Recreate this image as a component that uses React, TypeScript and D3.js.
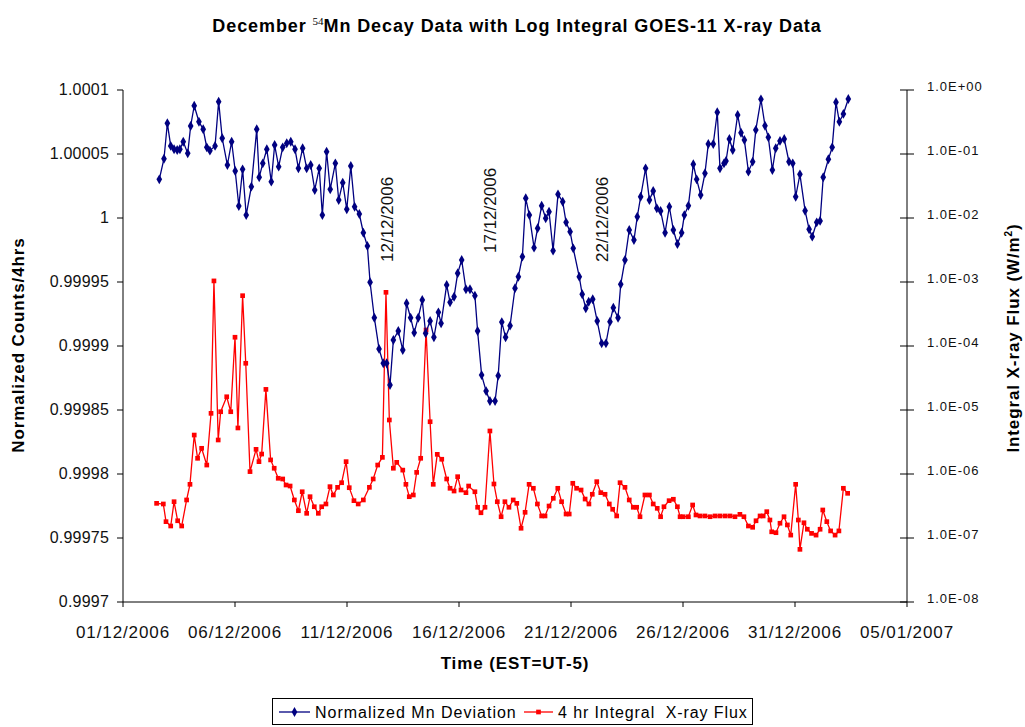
import React from "react";
import * as d3 from "d3";

// days after 01/12/2006 00:00 and normalized count deviation (ppm of 1)
const mnDays = [1.62, 1.83, 1.98, 2.13, 2.28, 2.42, 2.54, 2.69, 2.89, 3.02, 3.18, 3.39, 3.58, 3.74, 3.88, 4.11, 4.27, 4.43, 4.66, 4.85, 5.01, 5.17, 5.34, 5.5, 5.73, 5.97, 6.08, 6.24, 6.42, 6.62, 6.77, 6.95, 7.13, 7.31, 7.49, 7.68, 7.83, 8.02, 8.2, 8.38, 8.56, 8.76, 8.9, 9.09, 9.25, 9.48, 9.63, 9.81, 9.99, 10.17, 10.34, 10.55, 10.73, 10.91, 11.03, 11.22, 11.43, 11.62, 11.77, 11.92, 12.07, 12.29, 12.49, 12.66, 12.84, 13.0, 13.18, 13.36, 13.51, 13.71, 13.88, 14.08, 14.2, 14.45, 14.6, 14.78, 14.94, 15.12, 15.31, 15.49, 15.71, 15.83, 16.01, 16.21, 16.38, 16.61, 16.75, 16.91, 17.08, 17.28, 17.5, 17.65, 17.83, 17.98, 18.14, 18.35, 18.51, 18.69, 18.87, 19.02, 19.2, 19.42, 19.63, 19.78, 19.96, 20.1, 20.37, 20.5, 20.66, 20.79, 20.97, 21.17, 21.37, 21.56, 21.74, 21.89, 22.1, 22.22, 22.41, 22.6, 22.81, 22.96, 23.11, 23.33, 23.5, 23.67, 23.83, 24.0, 24.2, 24.39, 24.57, 24.75, 24.94, 25.06, 25.24, 25.46, 25.61, 25.79, 25.98, 26.13, 26.35, 26.53, 26.65, 26.83, 26.92, 27.07, 27.22, 27.44, 27.59, 27.74, 27.92, 28.11, 28.25, 28.48, 28.66, 28.81, 28.99, 29.14, 29.33, 29.52, 29.73, 29.9, 30.03, 30.22, 30.45, 30.63, 30.77, 30.97, 31.12, 31.26, 31.49, 31.66, 31.83, 31.98, 32.16, 32.38];
const mnPpm = [30.2, 46.3, 74.0, 56.3, 53.7, 53.1, 53.7, 59.6, 50.5, 71.9, 87.7, 75.2, 69.3, 55.2, 52.6, 56.3, 90.9, 62.3, 41.4, 59.6, 36.7, 9.4, 38.0, 2.3, 24.5, 69.3, 31.8, 42.7, 53.7, 28.4, 57.0, 40.1, 55.2, 58.4, 59.6, 53.7, 38.8, 54.5, 38.8, 41.4, 21.9, 38.8, 2.3, 51.8, 22.4, 42.7, 14.1, 27.6, 6.8, 40.6, 8.8, 3.1, -11.5, -21.9, -50.2, -77.9, -102.3, -113.5, -113.5, -130.5, -95.3, -88.3, -103.1, -66.6, -77.9, -89.6, -77.9, -64.1, -90.1, -80.5, -93.2, -73.7, -82.3, -52.3, -65.9, -61.5, -43.2, -32.8, -55.7, -55.7, -60.7, -88.3, -122.7, -135.2, -143.0, -143.0, -123.2, -81.3, -93.2, -84.1, -54.9, -45.9, -30.2, 15.4, 2.3, -23.2, -8.0, 9.6, -0.2, 4.9, -25.5, 18.5, 12.7, -3.4, -10.7, -23.7, -45.9, -59.6, -70.5, -65.4, -63.5, -80.5, -97.9, -97.9, -81.0, -70.1, -77.9, -51.8, -32.8, -9.4, -17.2, 1.0, 16.6, 38.8, 14.1, 21.1, 7.6, 5.5, -11.5, 8.8, -9.4, -20.3, -11.5, 2.3, 9.6, 42.0, 30.2, 18.0, 34.9, 57.8, 57.8, 82.6, 38.8, 42.7, 44.5, 61.7, 53.1, 80.5, 66.6, 60.9, 36.2, 44.0, 68.8, 92.7, 72.1, 63.0, 37.5, 54.5, 60.2, 61.7, 44.0, 42.7, 16.6, 34.1, 5.7, -8.8, -14.6, -3.4, -2.3, 31.8, 45.9, 55.2, 90.4, 75.2, 81.3, 93.0];

// days after 01/12/2006 00:00 and 4 hr integral X-ray flux (W/m2)
const xrayDays = [1.5, 1.8, 1.92, 2.13, 2.28, 2.44, 2.62, 2.84, 2.99, 3.18, 3.33, 3.51, 3.74, 3.93, 4.06, 4.25, 4.36, 4.63, 4.81, 5.0, 5.13, 5.34, 5.48, 5.67, 5.94, 6.07, 6.19, 6.38, 6.59, 6.75, 6.93, 7.13, 7.28, 7.46, 7.65, 7.83, 8.0, 8.2, 8.35, 8.54, 8.72, 8.87, 9.06, 9.24, 9.39, 9.58, 9.76, 9.96, 10.1, 10.31, 10.5, 10.73, 11.0, 11.17, 11.37, 11.58, 11.74, 11.89, 12.07, 12.22, 12.49, 12.63, 12.78, 12.96, 13.11, 13.29, 13.53, 13.71, 13.85, 14.03, 14.23, 14.45, 14.6, 14.78, 14.94, 15.09, 15.31, 15.43, 15.71, 15.83, 15.98, 16.16, 16.38, 16.56, 16.71, 16.88, 17.05, 17.23, 17.42, 17.58, 17.77, 17.95, 18.13, 18.32, 18.5, 18.69, 18.84, 19.02, 19.21, 19.41, 19.58, 19.78, 19.92, 20.08, 20.25, 20.45, 20.63, 20.8, 20.95, 21.15, 21.33, 21.52, 21.71, 21.86, 22.04, 22.19, 22.41, 22.6, 22.78, 22.93, 23.08, 23.3, 23.5, 23.67, 23.85, 24.0, 24.15, 24.38, 24.57, 24.75, 24.87, 25.01, 25.24, 25.43, 25.58, 25.76, 25.98, 26.21, 26.43, 26.65, 26.88, 27.1, 27.32, 27.54, 27.72, 27.92, 28.11, 28.26, 28.44, 28.58, 28.74, 28.88, 28.96, 29.15, 29.33, 29.51, 29.66, 29.81, 30.03, 30.15, 30.22, 30.4, 30.55, 30.74, 30.94, 31.12, 31.24, 31.42, 31.59, 31.79, 31.96, 32.16, 32.35];
const xrayFlux = [3.48e-7, 3.4e-7, 1.8e-7, 1.54e-7, 3.69e-7, 1.86e-7, 1.54e-7, 3.93e-7, 6.9e-7, 4.06e-6, 1.76e-6, 2.52e-6, 1.38e-6, 8.87e-6, 1.04e-3, 3.4e-6, 9.4e-6, 1.61e-5, 9.4e-6, 1.37e-4, 5.24e-6, 6.11e-4, 5.37e-5, 1.09e-6, 2.43e-6, 1.56e-6, 2.05e-6, 2.1e-5, 1.66e-6, 1.23e-6, 8.57e-7, 8.36e-7, 6.73e-7, 6.49e-7, 3.93e-7, 2.67e-7, 5.28e-7, 2.43e-7, 4.42e-7, 3.08e-7, 2.43e-7, 3.08e-7, 3.4e-7, 6.34e-7, 4.7e-7, 6.19e-7, 7.31e-7, 1.56e-6, 6.11e-7, 3.83e-7, 3.4e-7, 3.93e-7, 6.19e-7, 8.36e-7, 1.38e-6, 1.82e-6, 6.9e-4, 6.98e-6, 1.23e-6, 1.52e-6, 1.15e-6, 6.9e-7, 4.42e-7, 4.7e-7, 1.06e-6, 1.76e-6, 1.78e-4, 6.56e-6, 6.9e-7, 2.03e-6, 1.7e-6, 8.36e-7, 5.98e-7, 5.42e-7, 9.08e-7, 5.62e-7, 5.11e-7, 6.49e-7, 5.28e-7, 3.02e-7, 2.48e-7, 3.02e-7, 4.7e-6, 6.98e-7, 3.69e-7, 2.15e-7, 3.69e-7, 3.02e-7, 3.93e-7, 3.48e-7, 1.42e-7, 2.52e-7, 6.9e-7, 5.98e-7, 3.4e-7, 2.21e-7, 2.21e-7, 3.16e-7, 4.17e-7, 5.98e-7, 3.69e-7, 2.37e-7, 2.37e-7, 7.16e-7, 5.98e-7, 5.62e-7, 4.06e-7, 3.4e-7, 4.82e-7, 7.59e-7, 5.11e-7, 4.82e-7, 3.4e-7, 2.81e-7, 2.21e-7, 7.31e-7, 6.19e-7, 3.93e-7, 3.02e-7, 3.02e-7, 2.15e-7, 4.7e-7, 4.7e-7, 3.4e-7, 2.91e-7, 2.15e-7, 3.08e-7, 3.83e-7, 4.03e-7, 3.08e-7, 2.15e-7, 2.15e-7, 2.15e-7, 3.28e-7, 2.29e-7, 2.21e-7, 2.21e-7, 2.15e-7, 2.21e-7, 2.21e-7, 2.21e-7, 2.21e-7, 2.15e-7, 2.34e-7, 2.15e-7, 1.54e-7, 1.47e-7, 1.86e-7, 2.21e-7, 2.21e-7, 2.58e-7, 1.91e-7, 1.25e-7, 1.21e-7, 1.7e-7, 2.15e-7, 1.6e-7, 1.11e-7, 6.9e-7, 1.91e-7, 6.65e-8, 1.73e-7, 1.37e-7, 1.18e-7, 1.11e-7, 1.37e-7, 2.74e-7, 1.8e-7, 1.29e-7, 1.11e-7, 1.29e-7, 5.98e-7, 4.99e-7];

const leftTicks = [100, 50, 0, -50, -100, -150, -200, -250, -300];
const rightTicks = [1, 1e-1, 1e-2, 1e-3, 1e-4, 1e-5, 1e-6, 1e-7, 1e-8];
const markerDates = [
  { label: "12/12/2006", day: 11.78, base: 262 },
  { label: "17/12/2006", day: 16.4, base: 253 },
  { label: "22/12/2006", day: 21.38, base: 262 },
];

const W = 1025;
const H = 727;
const m = { left: 123, right: 907, top: 90, bottom: 602 };
const start = new Date(2006, 11, 1);
const end = new Date(2007, 0, 5);
const font = "Arial, 'Liberation Sans', sans-serif";

const dayToDate = (d: number) => new Date(start.getTime() + d * 86400000);

export default function App() {
  const x = d3.scaleTime().domain([start, end]).range([m.left, m.right]);
  const yL = d3.scaleLinear().domain([-300, 100]).range([m.bottom, m.top]);
  const yR = d3.scaleLog().domain([1e-8, 1]).range([m.bottom, m.top]);

  const mn = mnDays.map((d, i) => ({ t: dayToDate(d), v: mnPpm[i] }));
  const xr = xrayDays.map((d, i) => ({ t: dayToDate(d), v: xrayFlux[i] }));

  const mnLine = d3.line<any>().x((d) => x(d.t)).y((d) => yL(d.v))(mn) || "";
  const xrLine = d3.line<any>().x((d) => x(d.t)).y((d) => yR(d.v))(xr) || "";
  const diamond = d3.symbol().type(d3.symbolDiamond).size(28)() || "";
  const square = d3.symbol().type(d3.symbolSquare).size(22)() || "";

  const xTicks = d3.range(0, 8).map((i) => d3.timeDay.offset(start, i * 5));
  const fmtDate = d3.timeFormat("%d/%m/%Y");
  const fmtLeft = (v: number) => String(+(1 + v / 1e6).toFixed(5));
  const fmtRight = (v: number) => {
    const e = Math.round(Math.log10(v));
    return "1.0E" + (e < 0 ? "-" : "+") + String(Math.abs(e)).padStart(2, "0");
  };

  return (
    <svg
      width={W}
      height={H}
      style={{ position: "absolute", left: 0, top: 0, background: "#fff" }}
      fontFamily={font}
    >
      {/* title */}
      <text x={517} y={32} textAnchor="middle" fontWeight="bold" fontSize={18} letterSpacing={0.9}>
        December{" "}
        <tspan fontFamily="'Liberation Serif', serif" fontWeight="normal" fontSize={11} dy={-7} letterSpacing={0}>
          54
        </tspan>
        <tspan dy={7}>Mn Decay Data with Log Integral GOES-11 X-ray Data</tspan>
      </text>

      {/* axes */}
      <g stroke="#000" strokeWidth={1}>
        <line x1={m.left} x2={m.left} y1={m.top} y2={m.bottom} />
        <line x1={m.left} x2={m.right} y1={m.bottom} y2={m.bottom} />
        <line x1={m.right} x2={m.right} y1={m.top} y2={m.bottom} />
        {leftTicks.map((t) => (
          <line key={t} x1={m.left - 6} x2={m.left} y1={yL(t)} y2={yL(t)} />
        ))}
        {rightTicks.map((t) => (
          <line key={t} x1={m.right - 7} x2={m.right + 7} y1={yR(t)} y2={yR(t)} />
        ))}
        {xTicks.map((t) => (
          <line key={+t} x1={x(t)} x2={x(t)} y1={m.bottom} y2={m.bottom + 5} />
        ))}
      </g>

      <g fontSize={16} fill="#111">
        {leftTicks.map((t) => (
          <text key={t} x={m.left - 14} y={yL(t) + 5} textAnchor="end" letterSpacing={0.2}>
            {fmtLeft(t)}
          </text>
        ))}
        {xTicks.map((t) => (
          <text key={+t} x={x(t)} y={638} textAnchor="middle" fontSize={17} letterSpacing={0.9}>
            {fmtDate(t)}
          </text>
        ))}
      </g>
      <g fontSize={13} fill="#111">
        {rightTicks.map((t) => (
          <text key={t} x={927} y={yR(t) + 1} letterSpacing={1}>
            {fmtRight(t)}
          </text>
        ))}
      </g>

      {/* axis titles */}
      <text x={515} y={669} textAnchor="middle" fontWeight="bold" fontSize={17} letterSpacing={0.9}>
        Time (EST=UT-5)
      </text>
      <text
        transform={`translate(24,${345}) rotate(-90)`}
        textAnchor="middle"
        fontWeight="bold"
        fontSize={17}
        letterSpacing={0.9}
      >
        Normalized Counts/4hrs
      </text>
      <text
        transform={`translate(1019,${338}) rotate(-90)`}
        textAnchor="middle"
        fontWeight="bold"
        fontSize={17}
        letterSpacing={0.9}
      >
        Integral X-ray Flux (W/m
        <tspan fontSize={10} dy={-7}>2</tspan>
        <tspan dy={7}>)</tspan>
      </text>

      {/* date annotations */}
      <g fontSize={17} fill="#111">
        {markerDates.map((d) => (
          <text
            key={d.label}
            transform={`translate(${x(dayToDate(d.day)) + 6},${d.base}) rotate(-90)`}
          >
            {d.label}
          </text>
        ))}
      </g>

      {/* series */}
      <path d={xrLine} fill="none" stroke="#ff0000" strokeWidth={1.3} />
      {xr.map((d, i) => (
        <path key={i} d={square} transform={`translate(${x(d.t)},${yR(d.v)})`} fill="#ff0000" />
      ))}
      <path d={mnLine} fill="none" stroke="#000080" strokeWidth={1.3} />
      {mn.map((d, i) => (
        <path key={i} d={diamond} transform={`translate(${x(d.t)},${yL(d.v)})`} fill="#000080" />
      ))}

      {/* legend */}
      <rect x={272.5} y={698.5} width={480} height={26} fill="#fff" stroke="#000" />
      <line x1={279} x2={310} y1={712} y2={712} stroke="#000080" strokeWidth={1.3} />
      <path d={diamond} transform="translate(294.5,712)" fill="#000080" />
      <text x={315} y={718} fontSize={16} letterSpacing={1}>
        Normalized Mn Deviation
      </text>
      <line x1={524} x2={553} y1={712} y2={712} stroke="#ff0000" strokeWidth={1.3} />
      <path d={square} transform="translate(538.5,712)" fill="#ff0000" />
      <text x={558} y={718} fontSize={16} letterSpacing={0.9} style={{ whiteSpace: "pre" }}>
        4 hr Integral  X-ray Flux
      </text>
    </svg>
  );
}
